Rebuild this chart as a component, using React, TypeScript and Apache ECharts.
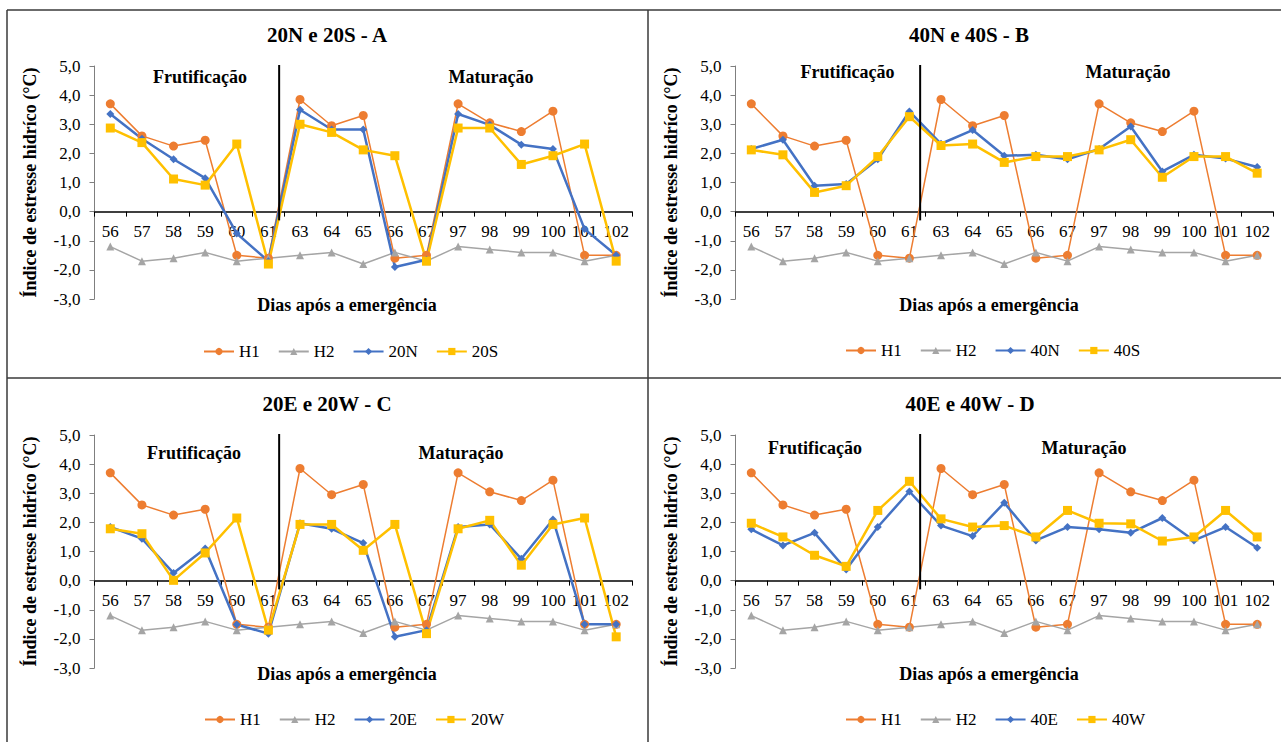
import React, { useEffect, useRef } from 'react';
import * as echarts from 'echarts';

// ---------------- DATA ----------------
const days = ['56', '57', '58', '59', '60', '61', '63', '64', '65', '66', '67', '97', '98', '99', '100', '101', '102'];
const Y_MIN = -3;
const Y_MAX = 5;
const Y_STEP = 1;
const yTickLabels = ['-3,0', '-2,0', '-1,0', '0,0', '1,0', '2,0', '3,0', '4,0', '5,0'];

const h1 = [3.7, 2.6, 2.25, 2.45, -1.5, -1.6, 3.85, 2.95, 3.3, -1.6, -1.5, 3.7, 3.05, 2.75, 3.45, -1.5, -1.5];
const h2 = [-1.2, -1.7, -1.6, -1.4, -1.7, -1.6, -1.5, -1.4, -1.8, -1.4, -1.7, -1.2, -1.3, -1.4, -1.4, -1.7, -1.5];

const s20N = [3.35, 2.5, 1.8, 1.15, -0.75, -1.7, 3.5, 2.82, 2.82, -1.9, -1.65, 3.35, 2.98, 2.3, 2.15, -0.6, -1.5];
const s20S = [2.87, 2.37, 1.12, 0.91, 2.32, -1.8, 3.0, 2.72, 2.12, 1.92, -1.7, 2.87, 2.87, 1.62, 1.92, 2.32, -1.7];
const s40N = [2.15, 2.47, 0.89, 0.95, 1.8, 3.44, 2.33, 2.8, 1.92, 1.95, 1.8, 2.15, 2.92, 1.38, 1.95, 1.82, 1.53];
const s40S = [2.12, 1.95, 0.66, 0.89, 1.89, 3.26, 2.27, 2.32, 1.69, 1.89, 1.89, 2.12, 2.47, 1.18, 1.89, 1.89, 1.32];
const s20E = [1.84, 1.44, 0.26, 1.1, -1.51, -1.82, 1.97, 1.78, 1.29, -1.93, -1.7, 1.84, 1.93, 0.75, 2.1, -1.5, -1.5];
const s20W = [1.78, 1.61, 0.01, 0.95, 2.15, -1.7, 1.93, 1.93, 1.04, 1.93, -1.82, 1.78, 2.07, 0.53, 1.93, 2.15, -1.93];
const s40E = [1.76, 1.21, 1.64, 0.38, 1.84, 3.06, 1.89, 1.53, 2.67, 1.38, 1.84, 1.76, 1.64, 2.15, 1.38, 1.84, 1.13];
const s40W = [1.97, 1.5, 0.87, 0.49, 2.41, 3.41, 2.12, 1.84, 1.89, 1.5, 2.41, 1.97, 1.95, 1.36, 1.5, 2.41, 1.5];

// phase divider (between day 61 and day 63), in category units along the axis
const phaseDivider = [[5.84, 5.08], [5.84, -0.3]];

const panelTitles = ['20N e 20S - A', '40N e 40S - B', '20E e 20W - C', '40E e 40W - D'];
const panelSeriesNames = [['20N', '20S'], ['40N', '40S'], ['20E', '20W'], ['40E', '40W']];
const panelSeriesData = [[s20N, s20S], [s40N, s40S], [s20E, s20W], [s40E, s40W]];

const yAxisTitle = 'Índice de estresse hidríco (°C)';
const xAxisTitle = 'Dias após a emergência';
const phase1 = 'Frutificação';
const phase2 = 'Maturação';

// ---------------- LAYOUT / STYLE ----------------
const FONT = 'Liberation Serif';
const COLORS = { h1: '#ED7D31', h2: '#A5A5A5', a: '#4472C4', b: '#FFC000' };
const GRID_H = 233;
const ZERO_OFFSET = -(GRID_H * (0 - Y_MIN)) / (Y_MAX - Y_MIN); // lift the category axis to y = 0

const layouts = [
  { ox: 0, oy: 0, title: [327, 35], xname: [347, 305], frut: [200, 77], mat: [491, 77], legend: [203, 343] },
  { ox: 641, oy: 0, title: [969, 35], xname: [989, 305], frut: [847.5, 72], mat: [1128, 72], legend: [845, 342] },
  { ox: 0, oy: 369, title: [327, 404], xname: [347, 674], frut: [194, 452.7], mat: [461, 452.7], legend: [204, 711] },
  { ox: 641, oy: 369, title: [970, 404], xname: [989, 674], frut: [815, 447.7], mat: [1084, 447.7], legend: [845, 711] },
];

function buildOption() {
  const grid: any[] = [];
  const xAxis: any[] = [];
  const yAxis: any[] = [];
  const series: any[] = [];
  const legend: any[] = [];
  const graphic: any[] = [];

  layouts.forEach((L, i) => {
    grid.push({ left: 94.5 + L.ox, top: 66 + L.oy, width: 537.5, height: GRID_H, containLabel: false });
    xAxis.push({
      type: 'category',
      gridIndex: i,
      position: 'bottom',
      offset: ZERO_OFFSET,
      data: days,
      boundaryGap: true,
      axisLine: { show: true, onZero: false, lineStyle: { color: '#000', width: 1.5 } },
      axisTick: { show: true, length: 5, lineStyle: { color: '#000', width: 1 } },
      axisLabel: { interval: 0, margin: 11, color: '#000', fontFamily: FONT, fontSize: 17 },
      splitLine: { show: false },
    });
    xAxis.push({ type: 'value', gridIndex: i, min: 0, max: days.length, show: false });
    yAxis.push({
      type: 'value',
      gridIndex: i,
      min: Y_MIN,
      max: Y_MAX,
      interval: Y_STEP,
      name: yAxisTitle,
      nameLocation: 'middle',
      nameGap: 56,
      nameRotate: 90,
      nameTextStyle: { fontFamily: FONT, fontSize: 18, fontWeight: 'bold', color: '#000' },
      axisLine: { show: true, lineStyle: { color: '#7f7f7f', width: 1 } },
      axisTick: { show: true, length: 5, lineStyle: { color: '#7f7f7f', width: 1 } },
      axisLabel: {
        margin: 14,
        color: '#000',
        fontFamily: FONT,
        fontSize: 17,
        formatter: (v: number) => yTickLabels[Math.round((v - Y_MIN) / Y_STEP)] ?? String(v),
      },
      splitLine: { show: false },
    });

    const xi = 2 * i;
    const names = panelSeriesNames[i];
    const data = panelSeriesData[i];
    series.push({
      type: 'line', name: 'H1', xAxisIndex: xi, yAxisIndex: i, data: h1,
      symbol: 'circle', symbolSize: 9,
      lineStyle: { color: COLORS.h1, width: 1.5 }, itemStyle: { color: COLORS.h1 },
    });
    series.push({
      type: 'line', name: 'H2', xAxisIndex: xi, yAxisIndex: i, data: h2,
      symbol: 'triangle', symbolSize: 8,
      lineStyle: { color: COLORS.h2, width: 1.5 }, itemStyle: { color: COLORS.h2 },
    });
    series.push({
      type: 'line', name: names[0], xAxisIndex: xi, yAxisIndex: i, data: data[0],
      symbol: 'diamond', symbolSize: 8,
      lineStyle: { color: COLORS.a, width: 2.5 }, itemStyle: { color: COLORS.a },
    });
    series.push({
      type: 'line', name: names[1], xAxisIndex: xi, yAxisIndex: i, data: data[1],
      symbol: 'rect', symbolSize: 9,
      lineStyle: { color: COLORS.b, width: 2.5 }, itemStyle: { color: COLORS.b },
    });
    series.push({
      type: 'line', name: 'divider' + i, xAxisIndex: xi + 1, yAxisIndex: i, data: phaseDivider,
      symbol: 'none', silent: true,
      lineStyle: { color: '#000', width: 2 },
    });

    legend.push({
      left: L.legend[0],
      top: L.legend[1],
      orient: 'horizontal',
      itemWidth: 30,
      itemHeight: 9,
      itemGap: 18,
      padding: 0,
      textStyle: { fontFamily: FONT, fontSize: 17, color: '#000' },
      data: ['H1', 'H2', names[0], names[1]],
      selectedMode: false,
    });

    const txt = (x: number, y: number, text: string, size: number) => ({
      type: 'text',
      x,
      y,
      silent: true,
      style: {
        text,
        fill: '#000',
        font: `bold ${size}px "${FONT}"`,
        textAlign: 'center',
        textVerticalAlign: 'middle',
      },
    });
    graphic.push(txt(L.title[0], L.title[1], panelTitles[i], 21));
    graphic.push(txt(L.xname[0], L.xname[1], xAxisTitle, 18));
    graphic.push(txt(L.frut[0], L.frut[1], phase1, 18));
    graphic.push(txt(L.mat[0], L.mat[1], phase2, 18));
  });

  const border = (x1: number, y1: number, x2: number, y2: number) => ({
    type: 'line',
    silent: true,
    shape: { x1, y1, x2, y2 },
    style: { stroke: '#3a3a3a', lineWidth: 1.5 },
  });
  graphic.push(border(7, 10, 1281, 10));
  graphic.push(border(7, 10, 7, 742));
  graphic.push(border(648, 10, 648, 742));
  graphic.push(border(7, 378, 1281, 378));

  return {
    animation: false,
    backgroundColor: '#fff',
    grid,
    xAxis,
    yAxis,
    series,
    legend,
    graphic,
  };
}

export default function App() {
  const ref = useRef<HTMLDivElement>(null);
  useEffect(() => {
    document.body.style.margin = '0';
    if (!ref.current) return;
    const chart = echarts.init(ref.current, undefined, { renderer: 'svg' });
    chart.setOption(buildOption() as any);
    return () => {
      chart.dispose();
    };
  }, []);
  return <div ref={ref} style={{ position: 'absolute', left: 0, top: 0, width: 1281, height: 742 }} />;
}
